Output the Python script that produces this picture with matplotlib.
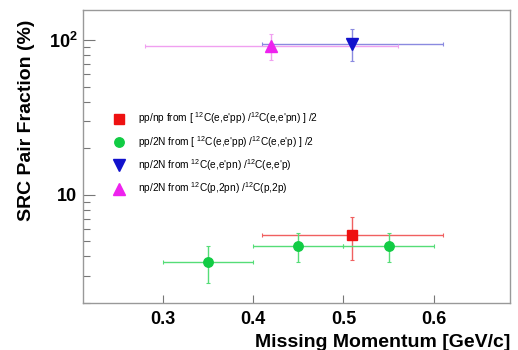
import matplotlib
matplotlib.use("Agg")
import matplotlib.pyplot as plt
from matplotlib.ticker import LogLocator, NullFormatter

plt.rcParams["font.family"] = ["Liberation Sans", "DejaVu Sans"]
plt.rcParams["mathtext.fontset"] = "custom"
plt.rcParams["mathtext.rm"] = "Liberation Sans"
plt.rcParams["mathtext.it"] = "Liberation Sans:italic"
plt.rcParams["mathtext.bf"] = "Liberation Sans:bold"

# pp/np from 12C(e,e'pp) / 12C(e,e'pn) / 2
ppnp_x = [0.51]
ppnp_y = [5.5]
ppnp_yerr = [1.7]
ppnp_xerr = [0.10]

# pp/2N from 12C(e,e'pp) / 12C(e,e'p) / 2
pp2n_x = [0.35, 0.45, 0.55]
pp2n_y = [3.7, 4.7, 4.7]
pp2n_yerr = [1.0, 1.0, 1.0]
pp2n_xerr = [0.05, 0.05, 0.05]

# np/2N from 12C(e,e'pn) / 12C(e,e'p)
np2n_x = [0.51]
np2n_y = [95]
np2n_yerr = [22]
np2n_xerr = [0.10]

# np/2N from 12C(p,2pn) / 12C(p,2p)
eva_x = [0.42]
eva_y = [92]
eva_yerr = [18]
eva_xerr = [0.14]

labels = [
    r"pp/np from [ $^{12}$C(e,e'pp) /$^{12}$C(e,e'pn) ] /2",
    r"pp/2N from [ $^{12}$C(e,e'pp) /$^{12}$C(e,e'p) ] /2",
    r"np/2N from $^{12}$C(e,e'pn) /$^{12}$C(e,e'p)",
    r"np/2N from $^{12}$C(p,2pn) /$^{12}$C(p,2p)",
]

fig = plt.figure(figsize=(5.18, 3.5), dpi=100)
ax = fig.add_axes([0.160, 0.134, 0.825, 0.837])

series = [
    (ppnp_x, ppnp_y, ppnp_xerr, ppnp_yerr, "s", 6.8, "#ee1111", "#f06060"),
    (pp2n_x, pp2n_y, pp2n_xerr, pp2n_yerr, "o", 6.8, "#11cc44", "#55dd77"),
    (np2n_x, np2n_y, np2n_xerr, np2n_yerr, "v", 8.0, "#1111cc", "#8a8ae0"),
    (eva_x, eva_y, eva_xerr, eva_yerr, "^", 8.0, "#ee22ee", "#f0a0f0"),
]
handles = []
for x, y, xe, ye, m, ms, c, ec in series:
    cont = ax.errorbar(x, y, xerr=xe, yerr=ye, fmt=m, ms=ms, color=c,
                       mec=c, ecolor=ec, elinewidth=1.0, capsize=1.5,
                       capthick=0.8, zorder=3)
    handles.append(cont[0])

ax.set_yscale("log")
ax.set_xlim(0.211, 0.685)
ax.set_ylim(2, 156)

ax.set_xticks([0.3, 0.4, 0.5, 0.6])
ax.set_xticklabels(["0.3", "0.4", "0.5", "0.6"], fontweight="bold", fontsize=13)
ax.set_yticks([10, 100])
ax.set_yticklabels(["10", r"$\mathbf{10^{2}}$"], fontweight="bold", fontsize=13)
ax.yaxis.set_minor_locator(LogLocator(base=10, subs=range(2, 10)))
ax.yaxis.set_minor_formatter(NullFormatter())
ax.xaxis.set_minor_locator(plt.NullLocator())

ax.tick_params(axis="x", which="major", direction="in", length=5.8,
               width=0.8, color="#777777", pad=6)
ax.tick_params(axis="y", which="major", direction="in", length=8.6,
               width=0.8, color="#777777", pad=4)
ax.tick_params(axis="y", which="minor", direction="in", length=5,
               width=0.8, color="#777777")
for s in ax.spines.values():
    s.set_color("#999999")
    s.set_linewidth(1.0)

ax.set_xlabel("Missing Momentum [GeV/c]", fontsize=14, fontweight="bold",
              loc="right")
ax.xaxis.set_label_coords(1.0, -0.106)
ax.xaxis.label.set_verticalalignment("top")
ax.set_ylabel("SRC Pair Fraction (%)", fontsize=14, fontweight="bold",
              loc="top")
ax.yaxis.set_label_coords(-0.112, 0.966)

ax.legend(handles, labels, loc="upper left", bbox_to_anchor=(0.072, 0.658),
          frameon=False, fontsize=7.3, numpoints=1, handlelength=1.0,
          handletextpad=1.4, labelspacing=0.75, borderpad=0, borderaxespad=0)

fig.savefig("out.png", dpi=100)
